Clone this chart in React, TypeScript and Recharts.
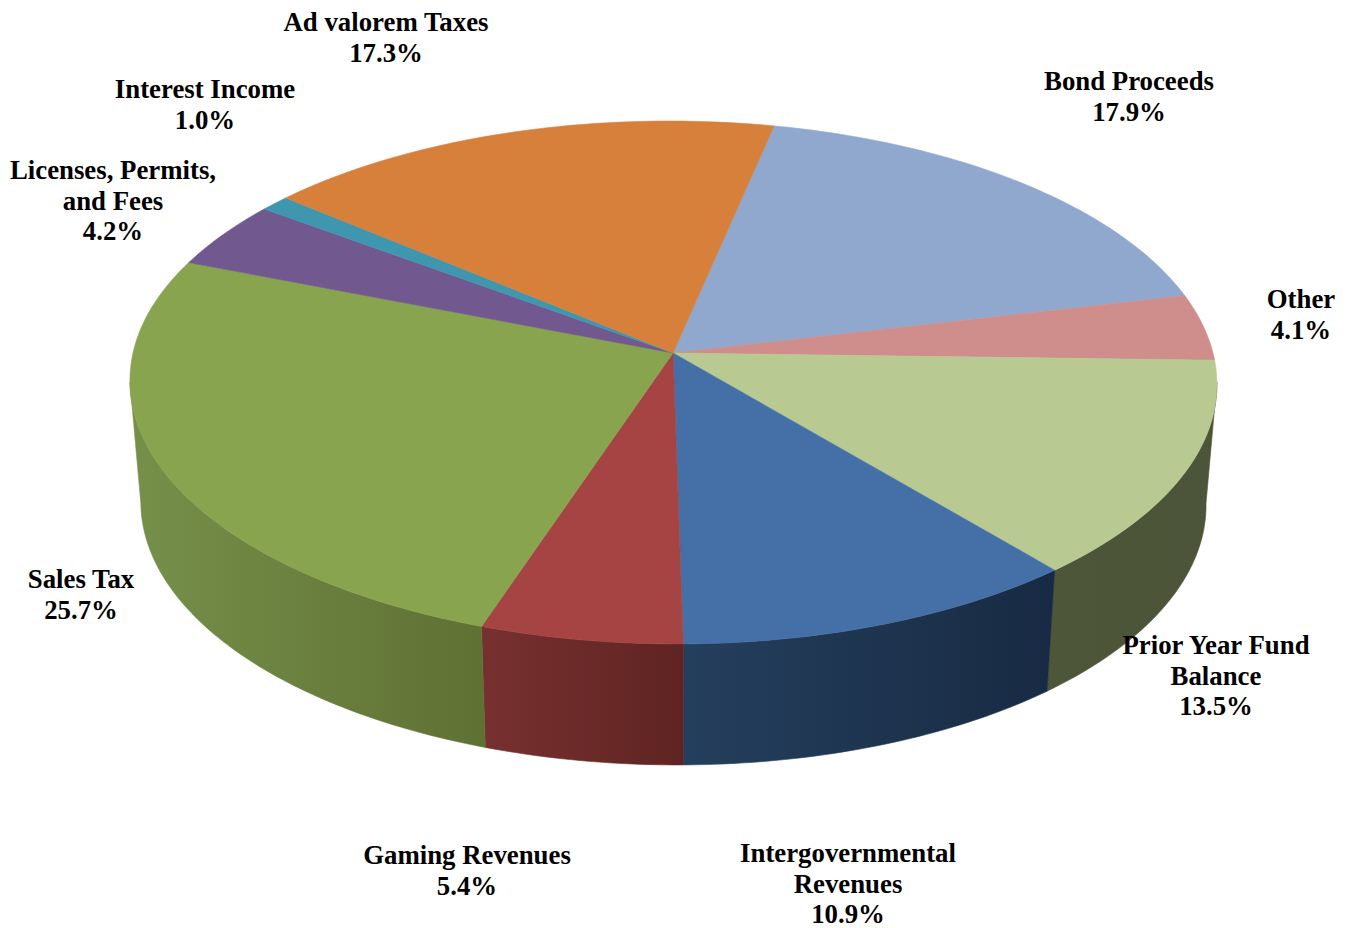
import { PieChart, Pie, Cell } from 'recharts';

// Funding sources, clockwise starting just right of the top of the pie
const sources = ['Bond Proceeds', 'Other', 'Prior Year Fund Balance', 'Intergovernmental Revenues', 'Gaming Revenues', 'Sales Tax', 'Licenses, Permits, and Fees', 'Interest Income', 'Ad valorem Taxes'];
const shares = [17.9, 4.1, 13.5, 10.9, 5.4, 25.7, 4.2, 1.0, 17.3];
const labelLines = [
  ['Bond Proceeds'],
  ['Other'],
  ['Prior Year Fund', 'Balance'],
  ['Intergovernmental', 'Revenues'],
  ['Gaming Revenues'],
  ['Sales Tax'],
  ['Licenses, Permits,', 'and Fees'],
  ['Interest Income'],
  ['Ad valorem Taxes'],
];

const topColors = ['#90a7ce', '#cf8e8c', '#b8ca91', '#4470a7', '#a54442', '#89a44e', '#71588f', '#3e97ae', '#d6803b'];
const wallLight = ['#6d809f', '#9c6b6a', '#4e5639', '#243f5d', '#773030', '#76904a', '#55426c', '#2e7184', '#a8622c'];
const wallDark = ['#6d809f', '#9c6b6a', '#4c5439', '#182a43', '#5f2421', '#5f7033', '#55426c', '#2e7184', '#a8622c'];

// Where each label block sits: centre x and first baseline
const labelX = [1129, 1301, 1216, 848, 467, 81, 113, 205, 386];
const labelY = [90, 308, 654, 862, 864, 588, 179, 98, 31];
const LINE_GAP = 30.5;

const CX = 673;
const CY = 353;
const RADIUS = 540;
const TILT = 0.478;
const PERSPECTIVE = 0.1128;
const SHEAR = 0.015;
const DEPTH = 121;
const BASE_SHRINK = 0.98;
const START_ANGLE = 77.6;

// Only this part of the rim faces the viewer (degrees, counter-clockwise from +x)
const WALL_FROM = -173.6;
const WALL_TO = -6.4;

// Tilted-disc projection of a rim point
const rim = (deg: number, radius: number, cx: number, cy: number) => {
  const rad = (deg * Math.PI) / 180;
  const c = Math.cos(rad);
  const s = -Math.sin(rad);
  const w = 1 - PERSPECTIVE * s;
  const dy = (radius * TILT * s) / w;
  return { x: cx + (radius * c) / w + SHEAR * dy, y: cy + dy };
};

const arcPoints = (from: number, to: number, radius: number, cx: number, cy: number) => {
  const steps = Math.max(2, Math.ceil(Math.abs(to - from)));
  const pts = [];
  for (let i = 0; i <= steps; i++) {
    pts.push(rim(from + ((to - from) * i) / steps, radius, cx, cy));
  }
  return pts;
};

const toPath = (pts: { x: number; y: number }[]) =>
  pts.map((p, i) => `${i ? 'L' : 'M'}${p.x.toFixed(2)} ${p.y.toFixed(2)}`).join(' ') + ' Z';

const TopSlice = (props: any) => {
  const { cx, cy, outerRadius, startAngle, endAngle, fill } = props;
  const pts = [{ x: cx, y: cy }, ...arcPoints(startAngle, endAngle, outerRadius, cx, cy)];
  return <path d={toPath(pts)} fill={fill} stroke={fill} strokeWidth={0.6} />;
};

const WallSlice = (props: any) => {
  const { cx, cy, outerRadius, startAngle, endAngle, index } = props;
  // angles run downward from 77.6 to -282.4, clip to the front of the disc
  const to = Math.max(endAngle, WALL_FROM);
  const from = Math.min(startAngle, WALL_TO);
  if (from <= to) return null;
  const upper = arcPoints(from, to, outerRadius, cx, cy);
  const lower = arcPoints(to, from, outerRadius, cx, cy).map((p) => ({
    x: cx + (p.x - cx) * BASE_SHRINK,
    y: p.y + DEPTH,
  }));
  const xs = [...upper, ...lower].map((p) => p.x);
  const id = `wall-${index}`;
  return (
    <g>
      <defs>
        <linearGradient id={id} gradientUnits="userSpaceOnUse" x1={Math.min(...xs)} x2={Math.max(...xs)} y1={0} y2={0}>
          <stop offset="0%" stopColor={wallLight[index]} />
          <stop offset="100%" stopColor={wallDark[index]} />
        </linearGradient>
      </defs>
      <path d={toPath([...upper, ...lower])} fill={`url(#${id})`} stroke={`url(#${id})`} strokeWidth={0.6} />
    </g>
  );
};

const SliceLabel = (props: any) => {
  const { index } = props;
  const lines = [...labelLines[index], `${shares[index].toFixed(1)}%`];
  return (
    <text
      x={labelX[index]}
      y={labelY[index]}
      textAnchor="middle"
      fontFamily="'Liberation Serif', serif"
      fontWeight="bold"
      fontSize={26.8}
      fill="#000"
    >
      {lines.map((line, i) => (
        <tspan key={line} x={labelX[index]} y={labelY[index] + i * LINE_GAP}>
          {line}
        </tspan>
      ))}
    </text>
  );
};

const data = sources.map((name, i) => ({ name, value: shares[i] }));

export default function App() {
  return (
    <div style={{ position: 'absolute', left: 0, top: 0, width: 1352, height: 928, background: '#fff' }}>
      <PieChart width={1352} height={928} margin={{ top: 0, right: 0, bottom: 0, left: 0 }}>
        <Pie
          data={data}
          dataKey="value"
          cx={CX}
          cy={CY}
          outerRadius={RADIUS}
          startAngle={START_ANGLE}
          endAngle={START_ANGLE - 360}
          paddingAngle={0}
          stroke="none"
          shape={WallSlice}
          isAnimationActive={false}
        />
        <Pie
          data={data}
          dataKey="value"
          cx={CX}
          cy={CY}
          outerRadius={RADIUS}
          startAngle={START_ANGLE}
          endAngle={START_ANGLE - 360}
          paddingAngle={0}
          stroke="none"
          shape={TopSlice}
          label={SliceLabel}
          labelLine={false}
          isAnimationActive={false}
        >
          {sources.map((name, i) => (
            <Cell key={name} fill={topColors[i]} />
          ))}
        </Pie>
      </PieChart>
    </div>
  );
}
